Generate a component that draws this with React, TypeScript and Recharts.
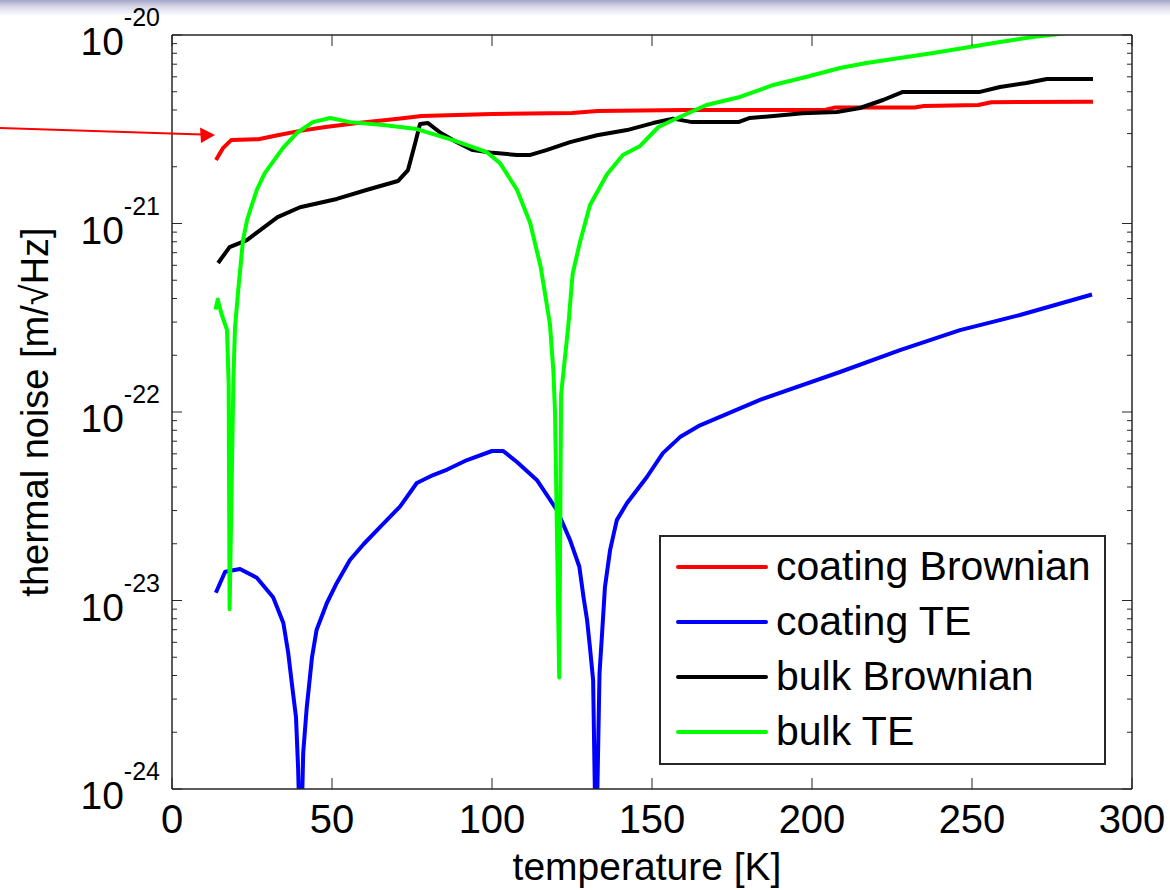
import { LineChart, Line, XAxis, YAxis } from 'recharts'

const FONT = '"Liberation Sans", Arial, Helvetica, sans-serif'
const AXIS_COLOR = '#262626'

const seriesNames = ['coating Brownian', 'coating TE', 'bulk Brownian', 'bulk TE']
const seriesColors = ['#ff0000', '#0000ff', '#000000', '#00ff00']

const xTicks = [0, 50, 100, 150, 200, 250, 300]
const yDecades = [1e-24, 1e-23, 1e-22, 1e-21, 1e-20]
const yExponents = ['-24', '-23', '-22', '-21', '-20']
const minorMantissas = [2, 3, 4, 5, 6, 7, 8, 9]

// [temperature K, noise m/sqrt(Hz)]
const coatingBrownian: [number, number][] = [
  [13.75, 2.17e-21], [16, 2.52e-21], [18.5, 2.77e-21], [27, 2.8e-21], [33, 2.94e-21],
  [40, 3.1e-21], [48, 3.25e-21], [58, 3.41e-21], [70, 3.58e-21], [78, 3.72e-21],
  [100, 3.81e-21], [125, 3.86e-21], [133, 3.95e-21], [160, 4.0e-21], [204, 4.0e-21],
  [207, 4.12e-21], [232, 4.12e-21], [235, 4.2e-21], [252, 4.25e-21], [256, 4.4e-21],
  [287.8, 4.42e-21],
]

const coatingTE: [number, number][] = [
  [13.7, 1.1e-23], [16.6, 1.42e-23], [21.25, 1.47e-23], [26.5, 1.32e-23], [31.6, 1.04e-23],
  [34.8, 7.6e-24], [36.3, 5.3e-24], [37.7, 3.35e-24], [38.75, 2.4e-24], [39.4, 1.3e-24],
  [40.2, 4e-25], [41, 1.55e-24], [42.1, 2.7e-24], [43.75, 5.0e-24], [45.2, 7.0e-24],
  [48.4, 9.7e-24], [51.5, 1.24e-23], [55.6, 1.64e-23], [60, 2.0e-23], [65, 2.45e-23],
  [71.25, 3.15e-23], [76.5, 4.2e-23], [81.6, 4.63e-23], [86, 4.95e-23], [92.2, 5.56e-23],
  [100, 6.21e-23], [103.5, 6.21e-23], [107.8, 5.43e-23], [114, 4.36e-23], [120.3, 3.02e-23],
  [124.4, 2.09e-23], [127.3, 1.51e-23], [128.6, 1.04e-23], [129.7, 7.9e-24], [130.6, 5.66e-24],
  [131.6, 3.78e-24], [132.5, 4e-25], [133.6, 4.1e-24], [134.4, 6.7e-24], [135.3, 1.18e-23],
  [136.9, 1.85e-23], [139, 2.67e-23], [142.2, 3.29e-23], [148.4, 4.52e-23], [153.4, 6.05e-23],
  [158.75, 7.36e-23], [165, 8.5e-23], [183.75, 1.16e-22], [208.75, 1.63e-22], [227.5, 2.13e-22],
  [246.25, 2.72e-22], [265, 3.27e-22], [287.5, 4.2e-22],
]

const bulkBrownian: [number, number][] = [
  [14.4, 6.17e-22], [18, 7.5e-22], [23.4, 8.17e-22], [33, 1.08e-21], [40, 1.22e-21],
  [51.5, 1.35e-21], [61, 1.51e-21], [70.6, 1.68e-21], [73.75, 1.92e-21], [76, 2.67e-21],
  [77.5, 3.37e-21], [80, 3.41e-21], [84, 3.02e-21], [87.8, 2.77e-21], [94, 2.45e-21],
  [100.3, 2.37e-21], [107.8, 2.31e-21], [112, 2.31e-21], [117, 2.45e-21], [124.4, 2.7e-21],
  [132.8, 2.94e-21], [142.2, 3.13e-21], [150.3, 3.41e-21], [156.6, 3.6e-21], [162.5, 3.45e-21],
  [177, 3.45e-21], [180.6, 3.63e-21], [188, 3.72e-21], [197, 3.85e-21], [207.8, 3.9e-21],
  [215, 4.1e-21], [222.2, 4.52e-21], [228.4, 4.99e-21], [252.5, 4.99e-21], [258.75, 5.3e-21],
  [267, 5.56e-21], [273.4, 5.84e-21], [287.8, 5.84e-21],
]

const bulkTE: [number, number][] = [
  [13.6, 3.5e-22], [14.3, 3.95e-22], [15.5, 3.3e-22], [17.2, 2.72e-22], [17.7, 1.4e-22],
  [18, 9e-24], [19.2, 1.53e-22], [19.7, 2.82e-22], [20.7, 4.43e-22], [22.2, 8.17e-22],
  [23.5, 1.05e-21], [26.5, 1.51e-21], [29, 1.85e-21], [34.7, 2.52e-21], [39, 3.02e-21],
  [44, 3.45e-21], [49.4, 3.63e-21], [55.6, 3.45e-21], [66, 3.33e-21], [76.5, 3.17e-21],
  [87.8, 2.77e-21], [98.4, 2.39e-21], [102.5, 2.09e-21], [107.8, 1.51e-21], [111.9, 1.01e-21],
  [115.2, 5.9e-22], [118.1, 2.93e-22], [119.2, 1.63e-22], [119.7, 9.9e-23], [121, 3.9e-24],
  [121.6, 1.24e-22], [123.8, 2.82e-22], [125.2, 5.4e-22], [127.5, 7.98e-22], [130.6, 1.25e-21],
  [135.9, 1.82e-21], [140.9, 2.31e-21], [146.3, 2.58e-21], [152, 3.25e-21], [156.6, 3.54e-21],
  [167, 4.25e-21], [177.5, 4.69e-21], [187.9, 5.43e-21], [198.4, 6.0e-21], [208.75, 6.68e-21],
  [217, 7.1e-21], [237.9, 8.03e-21], [258.75, 9.18e-21], [269, 9.76e-21], [281, 1.03e-20],
]

const allSeries = [coatingBrownian, coatingTE, bulkBrownian, bulkTE]

const yTicks = [
  ...yDecades,
  ...yDecades.slice(0, 4).flatMap((d) => minorMantissas.map((m) => m * d)),
].sort((a, b) => a - b)

function isDecade(v: number) {
  const l = Math.log10(v)
  return Math.abs(l - Math.round(l)) < 1e-6
}

function exponentLabel(v: number) {
  const idx = yDecades.findIndex((d) => Math.abs(Math.log10(d) - Math.log10(v)) < 1e-6)
  return idx >= 0 ? yExponents[idx] : ''
}

function LeftTick(props: any) {
  const { x, y, payload } = props
  const major = isDecade(payload.value)
  return (
    <g>
      <line x1={x} x2={x + (major ? 10 : 5)} y1={y} y2={y} stroke={AXIS_COLOR} strokeWidth={1} />
      {major && (
        <text x={x - 12} y={y + 20} textAnchor="end" fontFamily={FONT} fill="#000">
          <tspan fontSize={39}>10</tspan>
          <tspan fontSize={25} dy={-29}>{exponentLabel(payload.value)}</tspan>
        </text>
      )}
    </g>
  )
}

function RightTick(props: any) {
  const { x, y, payload } = props
  const major = isDecade(payload.value)
  return <line x1={x} x2={x - (major ? 10 : 5)} y1={y} y2={y} stroke={AXIS_COLOR} strokeWidth={1} />
}

function BottomTick(props: any) {
  const { x, y, payload } = props
  return (
    <g>
      <line x1={x} x2={x} y1={y} y2={y - 11} stroke={AXIS_COLOR} strokeWidth={1} />
      <text x={x} y={y + 44} textAnchor="middle" fontSize={40} fontFamily={FONT} fill="#000">
        {payload.value}
      </text>
    </g>
  )
}

function TopTick(props: any) {
  const { x, y } = props
  return <line x1={x} x2={x} y1={y} y2={y + 11} stroke={AXIS_COLOR} strokeWidth={1} />
}

function XLabel(props: any) {
  const vb = props.viewBox
  return (
    <text x={vb.x + vb.width / 2 - 5} y={vb.y + vb.height - 10} textAnchor="middle" fontSize={39} fontFamily={FONT} fill="#000">
      temperature [K]
    </text>
  )
}

function YLabel(props: any) {
  const vb = props.viewBox
  const cx = vb.x + 48
  const cy = vb.y + vb.height / 2
  return (
    <text x={cx} y={cy} transform={`rotate(-90 ${cx} ${cy})`} textAnchor="middle" fontSize={38} fontFamily={FONT} fill="#000">
      thermal noise [m/√Hz]
    </text>
  )
}

export default function App() {
  const lineData = allSeries.map((s) => s.map(([t, v]) => ({ t, v })))

  return (
    <div style={{ position: 'absolute', left: 0, top: 0, width: 1170, height: 890, background: '#fff', overflow: 'hidden' }}>
      <div style={{ position: 'absolute', left: 0, top: 0, width: 1170, height: 16, background: 'linear-gradient(to bottom, #a4a4c8 0px, #d4d4e6 6px, #ffffff 16px)' }} />
      <LineChart width={1170} height={890} margin={{ top: 0, right: 0, bottom: 0, left: 0 }}>
        <XAxis
          xAxisId="b"
          dataKey="t"
          type="number"
          domain={[0, 300]}
          ticks={xTicks}
          interval={0}
          allowDataOverflow
          height={101}
          tickSize={0}
          tickMargin={0}
          tick={<BottomTick />}
          axisLine={{ stroke: AXIS_COLOR, strokeWidth: 1.5 }}
          label={<XLabel />}
        />
        <XAxis
          xAxisId="t"
          orientation="top"
          dataKey="t"
          type="number"
          domain={[0, 300]}
          ticks={xTicks}
          interval={0}
          allowDataOverflow
          height={35}
          tickSize={0}
          tickMargin={0}
          tick={<TopTick />}
          axisLine={{ stroke: AXIS_COLOR, strokeWidth: 1.5 }}
        />
        <YAxis
          yAxisId="l"
          type="number"
          scale="log"
          domain={[1e-24, 1e-20]}
          ticks={yTicks}
          interval={0}
          allowDataOverflow
          width={172}
          tickSize={0}
          tickMargin={0}
          tick={<LeftTick />}
          axisLine={{ stroke: AXIS_COLOR, strokeWidth: 1.5 }}
          label={<YLabel />}
        />
        <YAxis
          yAxisId="r"
          orientation="right"
          type="number"
          scale="log"
          domain={[1e-24, 1e-20]}
          ticks={yTicks}
          interval={0}
          allowDataOverflow
          width={38}
          tickSize={0}
          tickMargin={0}
          tick={<RightTick />}
          axisLine={{ stroke: AXIS_COLOR, strokeWidth: 1.5 }}
        />
        {lineData.map((d, i) => (
          <Line
            key={seriesNames[i]}
            data={d}
            dataKey="v"
            name={seriesNames[i]}
            xAxisId={i === 0 ? 't' : 'b'}
            yAxisId={i === 0 ? 'r' : 'l'}
            type="linear"
            stroke={seriesColors[i]}
            strokeWidth={4}
            strokeLinejoin="round"
            dot={false}
            activeDot={false}
            isAnimationActive={false}
          />
        ))}
      </LineChart>

      <div
        style={{
          position: 'absolute', left: 659, top: 535, width: 447, height: 230, boxSizing: 'border-box',
          border: `2px solid ${AXIS_COLOR}`, background: '#fff', padding: '2px 0 0 15px',
        }}
      >
        {seriesNames.map((n, i) => (
          <div key={n} style={{ height: 55, display: 'flex', alignItems: 'center' }}>
            <div style={{ width: 92, height: 4, background: seriesColors[i], borderRadius: 2 }} />
            <span style={{ marginLeft: 8, fontSize: 41, fontFamily: FONT, color: '#000', lineHeight: '55px', whiteSpace: 'nowrap' }}>{n}</span>
          </div>
        ))}
      </div>

      <svg style={{ position: 'absolute', left: 0, top: 0, pointerEvents: 'none' }} width={230} height={160}>
        <line x1={0} y1={128} x2={202} y2={134.5} stroke="#ff0000" strokeWidth={2} />
        <polygon points="215,135 200,127.5 201,143" fill="#ff0000" />
      </svg>
    </div>
  )
}
